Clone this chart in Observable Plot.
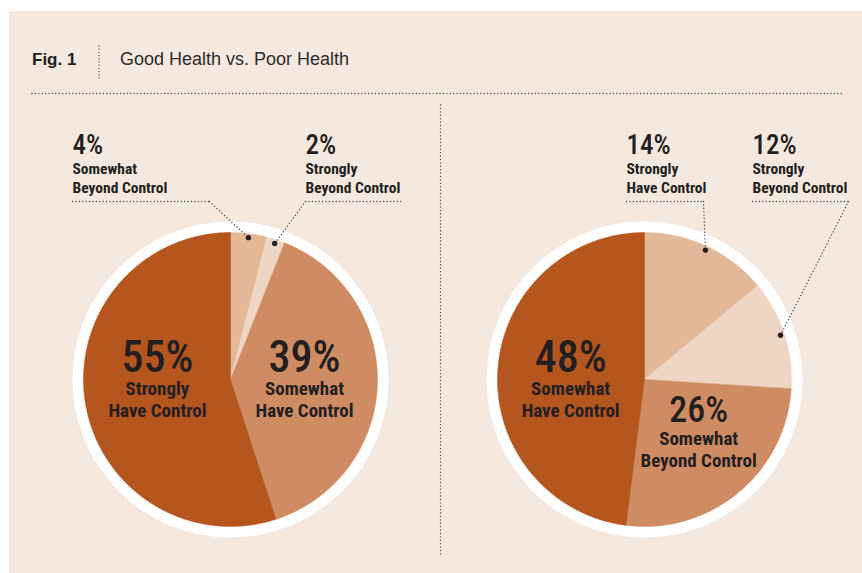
<!DOCTYPE html>
<html>
<head>
<meta charset="utf-8">
<script src="https://cdn.jsdelivr.net/npm/d3@7"></script>
<script src="https://cdn.jsdelivr.net/npm/@observablehq/plot@0.6"></script>
<style>
  html, body { margin: 0; padding: 0; background: #ffffff; }
  #page { position: relative; width: 862px; height: 573px; overflow: hidden; }
  #panel { position: absolute; left: 9px; top: 11px; right: 0; bottom: 0; background: #f5e8de; }
  .ttl { position: absolute; font-family: "Liberation Sans", Arial, Helvetica, sans-serif; color: #231f20; white-space: nowrap; line-height: 1; }
  #fig { left: 32px; top: 50.6px; font-size: 17px; font-weight: bold; }
  #sub { left: 120px; top: 50.2px; font-size: 18px; color: #2b2b2b; }
  #sep { position: absolute; left: 97px; top: 45px; }
  #chart { position: absolute; left: 0; top: 85px; }
</style>
</head>
<body>
<div id="page">
  <div id="panel"></div>
  <div class="ttl" id="fig">Fig. 1</div>
  <svg id="sep" width="4" height="34"><line x1="2" x2="2" y1="1" y2="33" stroke="#4a4a4a" stroke-width="1.3" stroke-dasharray="0.1,3.1" stroke-linecap="round"/></svg>
  <div class="ttl" id="sub">Good Health vs. Poor Health</div>
  <div id="chart"></div>
</div>
<script>
// ---------------- DATA ----------------
const groups = ["Good Health", "Poor Health"];
const goodCategories = ["Somewhat Beyond Control", "Strongly Beyond Control", "Somewhat Have Control", "Strongly Have Control"];
const goodValues = [4, 2, 39, 55];
const poorCategories = ["Strongly Have Control", "Strongly Beyond Control", "Somewhat Beyond Control", "Somewhat Have Control"];
const poorValues = [14, 12, 26, 48];

// ---------------- STYLE / LAYOUT ----------------
const shades = ["#e3b899", "#efd5c3", "#cf8c63", "#b5561e"];
const ink = "#231f20";
const dotInk = "#4a4a4a";
const narrowFamily = `"Roboto Condensed", "Liberation Sans Narrow", "Liberation Sans", sans-serif`;

const layout = {
  width: 862, top: 85, bottom: 573,
  centers: [[230, 379], [644, 379]],
  radius: 147, ringRadius: 158,
  labelRadius: 74, dotRadius: 143,
  insideMin: 20,
  labelNudge: {"0-3": [0, -9], "1-3": [0, 7], "1-2": [7, -5]},
  callouts: [
    [{textX: 72, lineEnd: 209, joint: 209}, {textX: 305, lineEnd: 402, joint: 305}],
    [{textX: 626, lineEnd: 703, joint: 703}, {textX: 752, lineEnd: 848, joint: 848}]
  ],
  calloutNumberY: 153, calloutLine1Y: 173, calloutLine2Y: 192, calloutRuleY: 201,
  hRule: {y: 93, x1: 32, x2: 842},
  vRule: {x: 440, y1: 105, y2: 557}
};

// ---------------- GEOMETRY FROM DATA ----------------
const pies = [
  {group: groups[0], categories: goodCategories, values: goodValues},
  {group: groups[1], categories: poorCategories, values: poorValues}
];

const slices = [];
pies.forEach((p, pi) => {
  const total = d3.sum(p.values);
  const [cx, cy] = layout.centers[pi];
  let acc = 0;
  p.values.forEach((v, i) => {
    const a0 = acc / total * 2 * Math.PI; acc += v;
    const a1 = acc / total * 2 * Math.PI;
    const name = p.categories[i];
    const sp = name.indexOf(" ");
    slices.push({pie: pi, slot: i, key: `${pi}-${i}`, category: name, value: v, a0, a1,
      mid: (a0 + a1) / 2, cx, cy, line1: name.slice(0, sp), line2: name.slice(sp + 1)});
  });
});
const px = (s, r, a) => s.cx + r * Math.sin(a);
const py = (s, r, a) => s.cy - r * Math.cos(a);

const slicePoints = [];
for (const s of slices) {
  slicePoints.push({key: s.key, slot: s.slot, x: s.cx, y: s.cy});
  const n = Math.max(2, Math.ceil((s.a1 - s.a0) / (Math.PI / 360)));
  for (let k = 0; k <= n; k++) {
    const a = s.a0 + (s.a1 - s.a0) * k / n;
    slicePoints.push({key: s.key, slot: s.slot, x: px(s, layout.radius, a), y: py(s, layout.radius, a)});
  }
  slicePoints.push({key: s.key, slot: s.slot, x: s.cx, y: s.cy});
}

const inside = slices.filter(s => s.value >= layout.insideMin).map(s => {
  const [nx, ny] = layout.labelNudge[s.key] || [0, 0];
  return {...s, lx: px(s, layout.labelRadius, s.mid) + nx, ly: py(s, layout.labelRadius, s.mid) + ny};
});
const counters = [0, 0];
const outside = slices.filter(s => s.value < layout.insideMin).map(s => {
  const c = layout.callouts[s.pie][counters[s.pie]++];
  return {...s, ...c, dx: px(s, layout.dotRadius, s.mid), dy: py(s, layout.dotRadius, s.mid)};
});
const leaders = [];
for (const o of outside) {
  leaders.push({key: o.key + "h", x: o.textX, y: layout.calloutRuleY});
  leaders.push({key: o.key + "h", x: o.lineEnd, y: layout.calloutRuleY});
  leaders.push({key: o.key + "d", x: o.joint, y: layout.calloutRuleY});
  leaders.push({key: o.key + "d", x: o.dx, y: o.dy});
}
const centers = pies.map((p, i) => ({group: p.group, x: layout.centers[i][0], y: layout.centers[i][1]}));

const dotted = {stroke: dotInk, strokeWidth: 1.35, strokeDasharray: "0.1,3.3", strokeLinecap: "round"};

const plot = Plot.plot({
  width: layout.width,
  height: layout.bottom - layout.top,
  margin: 0,
  x: {domain: [0, layout.width], range: [0, layout.width], axis: null},
  y: {domain: [layout.top, layout.bottom], range: [0, layout.bottom - layout.top], axis: null},
  color: {type: "ordinal", domain: [0, 1, 2, 3], range: shades},
  style: {background: "transparent", overflow: "visible"},
  marks: [
    Plot.ruleY([layout.hRule.y], {x1: layout.hRule.x1, x2: layout.hRule.x2, ...dotted}),
    Plot.ruleX([layout.vRule.x], {y1: layout.vRule.y1, y2: layout.vRule.y2, ...dotted}),
    Plot.dot(centers, {x: "x", y: "y", r: layout.ringRadius, fill: "white", ariaLabel: "ring"}),
    Plot.line(slicePoints, {x: "x", y: "y", z: "key", fill: "slot", stroke: "slot", strokeWidth: 0.5, curve: "linear"}),
    // inside labels
    Plot.text(inside, {x: "lx", y: "ly", text: d => d.value + "%", dy: -10, lineAnchor: "bottom",
      fontSize: d => d.value < 30 ? 36 : 44, fontFamily: narrowFamily, fontWeight: 500, fill: ink}),
    Plot.text(inside, {x: "lx", y: "ly", text: "line1", dy: 13, lineAnchor: "bottom",
      fontSize: 19, fontFamily: narrowFamily, fontWeight: "bold", fill: ink}),
    Plot.text(inside, {x: "lx", y: "ly", text: "line2", dy: 35, lineAnchor: "bottom",
      fontSize: 19, fontFamily: narrowFamily, fontWeight: "bold", fill: ink}),
    // callouts
    Plot.line(leaders, {x: "x", y: "y", z: "key", ...dotted}),
    Plot.dot(outside, {x: "dx", y: "dy", r: 2.7, fill: ink}),
    Plot.text(outside, {x: "textX", y: layout.calloutNumberY, text: d => d.value + "%", textAnchor: "start",
      lineAnchor: "bottom", fontSize: 27, fontFamily: narrowFamily, fontWeight: 500, fill: ink}),
    Plot.text(outside, {x: "textX", y: layout.calloutLine1Y, text: "line1", textAnchor: "start",
      lineAnchor: "bottom", fontSize: 15.5, fontFamily: narrowFamily, fontWeight: "bold", fill: ink}),
    Plot.text(outside, {x: "textX", y: layout.calloutLine2Y, text: "line2", textAnchor: "start",
      lineAnchor: "bottom", fontSize: 15.5, fontFamily: narrowFamily, fontWeight: "bold", fill: ink})
  ]
});

const sel = d3.select(plot);
const f = sel.insert("defs", ":first-child").append("filter")
  .attr("id", "ringShadow").attr("x", "-20%").attr("y", "-20%").attr("width", "140%").attr("height", "140%");
f.append("feDropShadow").attr("dx", 1.5).attr("dy", 3.5).attr("stdDeviation", 3.5)
  .attr("flood-color", "#5a3a20").attr("flood-opacity", 0.3);
sel.select('g[aria-label="ring"]').attr("filter", "url(#ringShadow)");

document.getElementById("chart").appendChild(plot);
</script>
</body>
</html>
